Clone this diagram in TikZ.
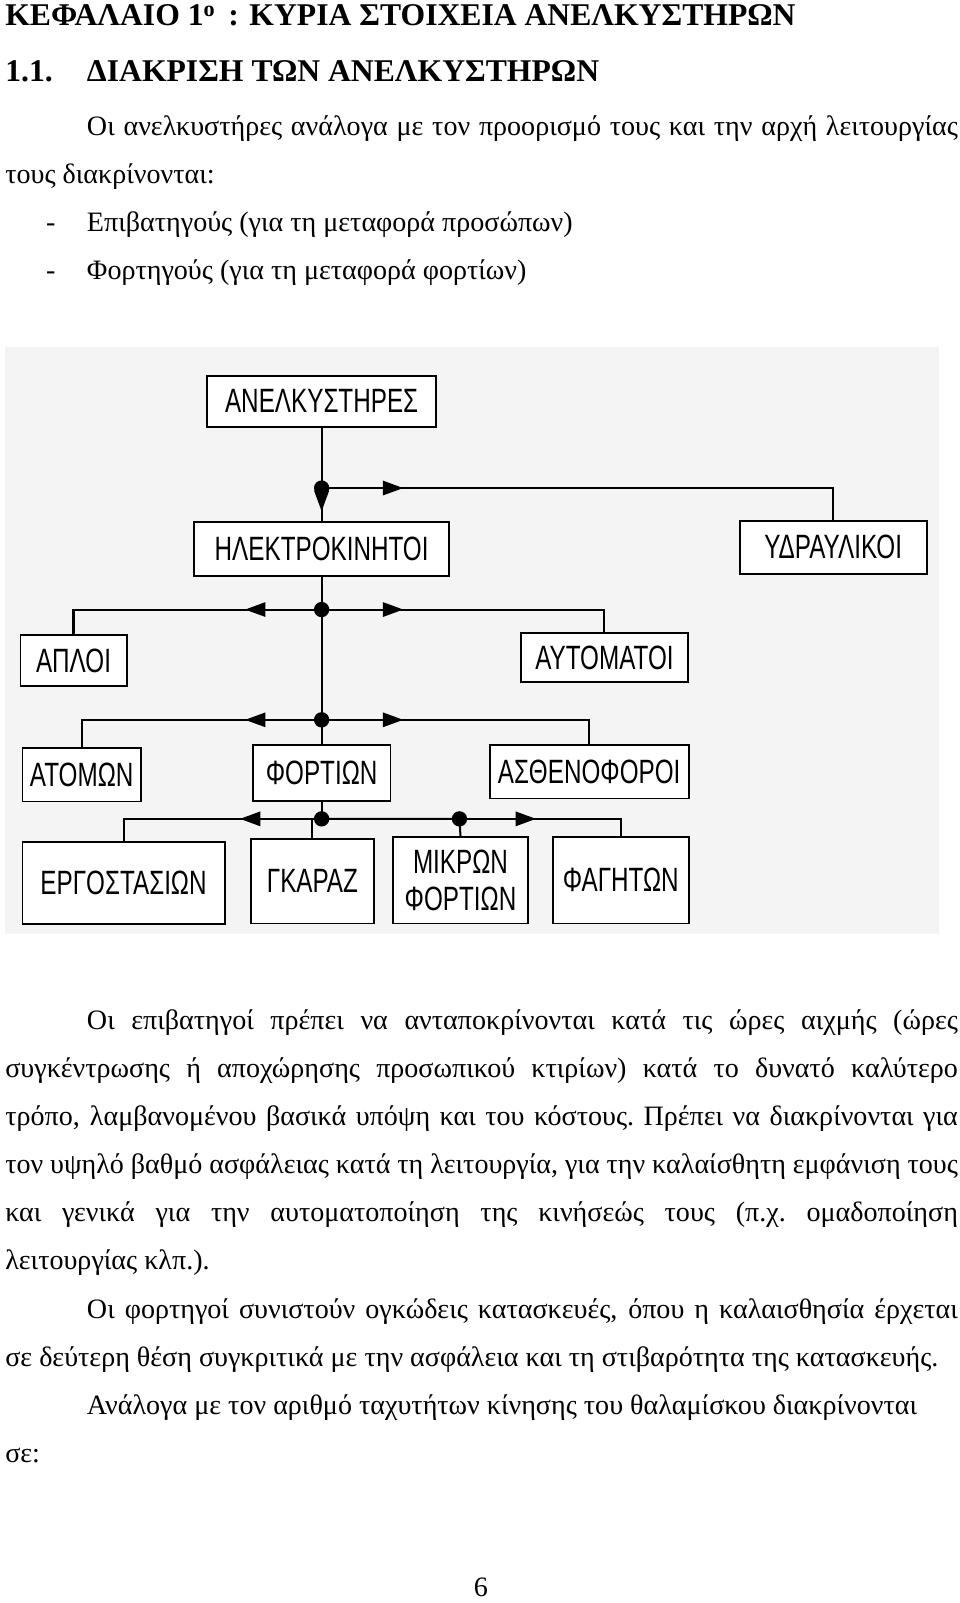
\documentclass[tikz,border=0pt]{standalone}
\usepackage{fontspec}
\setmainfont{Liberation Serif}
\newfontfamily\boxfont[FakeStretch=0.72]{Liberation Sans}
\usetikzlibrary{arrows.meta,decorations.markings}
\tikzset{
  bx/.style={draw,line width=1.8pt,fill=white,inner sep=0pt,align=center,font=\boxfont\fontsize{33}{36}\selectfont},
  ln/.style={line width=2pt},
  arr/.style={ln,postaction={decorate},decoration={markings,mark=at position #1 with {\arrow{Triangle[length=20pt,width=14pt]}}}},
  dot/.style={circle,fill=black,inner sep=0pt,minimum size=15pt},
  tx/.style={anchor=base west,inner sep=0pt,font=\fontsize{27.5}{30}\selectfont},
  hd/.style={anchor=base west,inner sep=0pt,font=\bfseries\fontsize{31}{34}\selectfont},
}
\begin{document}
\begin{tikzpicture}[x=1pt,y=-1pt]
\useasboundingbox (0,0) rectangle (940,1570);
% header
\node[hd] (h1) at (5,25) {ΚΕΦΑΛΑΙΟ 1\textsuperscript{ο}\, : ΚΥΡΙΑ ΣΤΟΙΧΕΙΑ ΑΝΕΛΚΥΣΤΗΡΩΝ};
\node[hd] (h2a) at (5,80) {1.1.};
\node[hd] (h2b) at (85,80) {ΔΙΑΚΡΙΣΗ ΤΩΝ ΑΝΕΛΚΥΣΤΗΡΩΝ};
\node[tx] (p1) at (85,133) {\makebox[853pt][s]{Οι ανελκυστήρες ανάλογα με τον προορισμό τους και την αρχή λειτουργίας}};
\node[tx] (p2) at (5,180) {τους διακρίνονται:};
\node[tx] (d1) at (45,227) {-};
\node[tx] (l1) at (85,227) {Επιβατηγούς (για τη μεταφορά προσώπων)};
\node[tx] (d2) at (45,274) {-};
\node[tx] (l2) at (85,274) {Φορτηγούς (για τη μεταφορά φορτίων)};
% diagram background
\fill[gray!9] (5,340) rectangle (920,915);
% boxes
\node[bx,minimum width=224pt,minimum height=50pt] (anel) at (315,393) {ΑΝΕΛΚΥΣΤΗΡΕΣ};
\node[bx,minimum width=250pt,minimum height=53pt] (ilek) at (315,538) {ΗΛΕΚΤΡΟΚΙΝΗΤΟΙ};
\node[bx,minimum width=183pt,minimum height=52pt] (ydr) at (816,536) {ΥΔΡΑΥΛΙΚΟΙ};
\node[bx,minimum width=104pt,minimum height=50pt] (aploi) at (72,647) {ΑΠΛΟΙ};
\node[bx,minimum width=163pt,minimum height=48pt] (aytom) at (592,644) {ΑΥΤΟΜΑΤΟΙ};
\node[bx,minimum width=116pt,minimum height=52pt] (atomon) at (80,759) {ΑΤΟΜΩΝ};
\node[bx,minimum width=135pt,minimum height=55pt] (fortion) at (315,757) {ΦΟΡΤΙΩΝ};
\node[bx,minimum width=195pt,minimum height=52pt] (asth) at (577,756) {ΑΣΘΕΝΟΦΟΡΟΙ};
\node[bx,minimum width=198pt,minimum height=80pt] (ergo) at (121,865) {ΕΡΓΟΣΤΑΣΙΩΝ};
\node[bx,minimum width=121pt,minimum height=83pt] (garaz) at (306,863) {ΓΚΑΡΑΖ};
\node[bx,minimum width=133pt,minimum height=85pt] (mikr) at (451,862) {ΜΙΚΡΩΝ\\ΦΟΡΤΙΩΝ};
\node[bx,minimum width=133pt,minimum height=85pt] (fag) at (608,862) {ΦΑΓΗΤΩΝ};
% junctions
\coordinate (j1) at (315,478);
\coordinate (j2) at (315,597);
\coordinate (j3) at (315,705);
\coordinate (j4) at (315,802);
\coordinate (j5) at (450,802);
% connectors
\draw[ln] (anel) -- (j1);
\draw[arr=0.7] (j1) -- (ilek.north);
\draw[arr=80pt] (j1) -| (ydr.north);
\draw[ln] (ilek.south) -- (j2);
\draw[arr=75pt] (j2) -| (aploi.north);
\draw[arr=80pt] (j2) -| (aytom.north);
\draw[ln] (j2) -- (j3);
\draw[arr=75pt] (j3) -| (atomon.north);
\draw[arr=80pt] (j3) -| (asth.north);
\draw[ln] (j3) -- (fortion.north);
\draw[ln] (fortion.south) -- (j4);
\draw[arr=80pt] (j4) -| (ergo.north);
\draw[ln] (j4) -| (garaz.north);
\draw[ln] (j4) -- (j5) -- (mikr.north);
\draw[arr=75pt] (j5) -| (fag.north);
\foreach \j in {j1,j2,j3,j4,j5} \node[dot] at (\j) {};
% lower text
\node[tx] (q1) at (85,1008) {\makebox[853pt][s]{Οι επιβατηγοί πρέπει να ανταποκρίνονται κατά τις ώρες αιχμής (ώρες}};
\node[tx] (q2) at (5,1055) {\makebox[933pt][s]{συγκέντρωσης ή αποχώρησης προσωπικού κτιρίων) κατά το δυνατό καλύτερο}};
\node[tx] (q3) at (5,1102) {\makebox[933pt][s]{τρόπο, λαμβανομένου βασικά υπόψη και του κόστους.\ Πρέπει να διακρίνονται για}};
\node[tx] (q4) at (5,1149) {\makebox[933pt][s]{τον υψηλό βαθμό ασφάλειας κατά τη λειτουργία, για την καλαίσθητη εμφάνιση τους}};
\node[tx] (q5) at (5,1196) {\makebox[933pt][s]{και γενικά για την αυτοματοποίηση της κινήσεώς τους (π.χ.\ ομαδοποίηση}};
\node[tx] (q6) at (5,1243) {λειτουργίας κλπ.).};
\node[tx] (q7) at (85,1291) {\makebox[853pt][s]{Οι φορτηγοί συνιστούν ογκώδεις κατασκευές, όπου η καλαισθησία έρχεται}};
\node[tx] (q8) at (5,1338) {σε δεύτερη θέση συγκριτικά με την ασφάλεια και τη στιβαρότητα της κατασκευής.};
\node[tx] (q9) at (85,1385) {Ανάλογα με τον αριθμό ταχυτήτων κίνησης του θαλαμίσκου διακρίνονται};
\node[tx] (q10) at (5,1432) {σε:};
\node[tx] (pg) at (464,1564) {6};
\end{tikzpicture}
\end{document}
